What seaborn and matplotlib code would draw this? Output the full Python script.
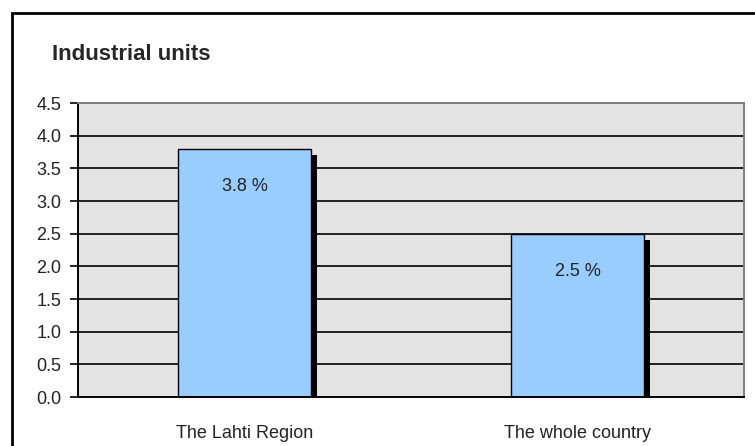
import matplotlib
matplotlib.use("Agg")
import matplotlib.pyplot as plt
import matplotlib.patheffects as pe
import seaborn as sns

# ============================
# Dados
# ============================
regioes = ["The Lahti Region", "The whole country"]
valores = [3.8, 2.5]
rotulos = ["3.8 %", "2.5 %"]
y_ticks = [0.0, 0.5, 1.0, 1.5, 2.0, 2.5, 3.0, 3.5, 4.0, 4.5]
titulo = "Industrial units"

sns.set_style("white")
plt.rcParams['font.family'] = ['Liberation Sans Narrow', 'Liberation Sans', 'DejaVu Sans']

fig = plt.figure(figsize=(7.55, 4.46), dpi=100)
ax = fig.add_axes([78 / 755, 49 / 446, 666 / 755, 294 / 446])
ax.set_facecolor("#E3E3E3")

sns.barplot(x=regioes, y=valores, color="#99CCFF", saturation=1,
            edgecolor="black", linewidth=1.0, width=0.4, ax=ax)

# sombra preta das barras
for p in ax.patches:
    p.set_path_effects([pe.SimplePatchShadow(offset=(4.3, -4.3),
                                             shadow_rgbFace="black", alpha=1),
                        pe.Normal()])

# rotulos dentro das barras
for i, (v, txt) in enumerate(zip(valores, rotulos)):
    ax.text(i, v - 0.58, txt, ha="center", va="center", fontsize=13, color="#222222")

ax.set_ylim(0, 4.5)
ax.set_yticks(y_ticks)
ax.set_yticklabels([f"{t:.1f}" for t in y_ticks])
ax.yaxis.grid(True, color="black", linewidth=1.2)
ax.set_axisbelow(True)

ax.set_xlim(-0.5, 1.5)
ax.set_xticks([-0.5, 0.5, 1.5], minor=True)
ax.tick_params(axis="x", which="major", length=0, pad=20, labelsize=13, labelcolor="#222222")
ax.tick_params(axis="x", which="minor", length=6, width=1.2, color="black", direction="out")
ax.tick_params(axis="y", length=6, width=1.2, color="black", pad=6, labelsize=13,
               labelcolor="#222222", left=True)
ax.set_xlabel("")
ax.set_ylabel("")

for lado in ["left", "bottom"]:
    ax.spines[lado].set_color("black")
    ax.spines[lado].set_linewidth(1.4)
for lado in ["top", "right"]:
    ax.spines[lado].set_color("#808080")
    ax.spines[lado].set_linewidth(1.4)

# titulo
fig.text(52 / 755, 1 - 55 / 446, titulo, fontsize=16, fontweight="bold",
         ha="left", va="center")

# moldura externa
fig.add_artist(plt.Rectangle((12 / 755, -0.2), 2, 1.2 - 13 / 446,
                             transform=fig.transFigure, fill=False,
                             edgecolor="black", linewidth=2))

fig.savefig("out.png", dpi=100)
